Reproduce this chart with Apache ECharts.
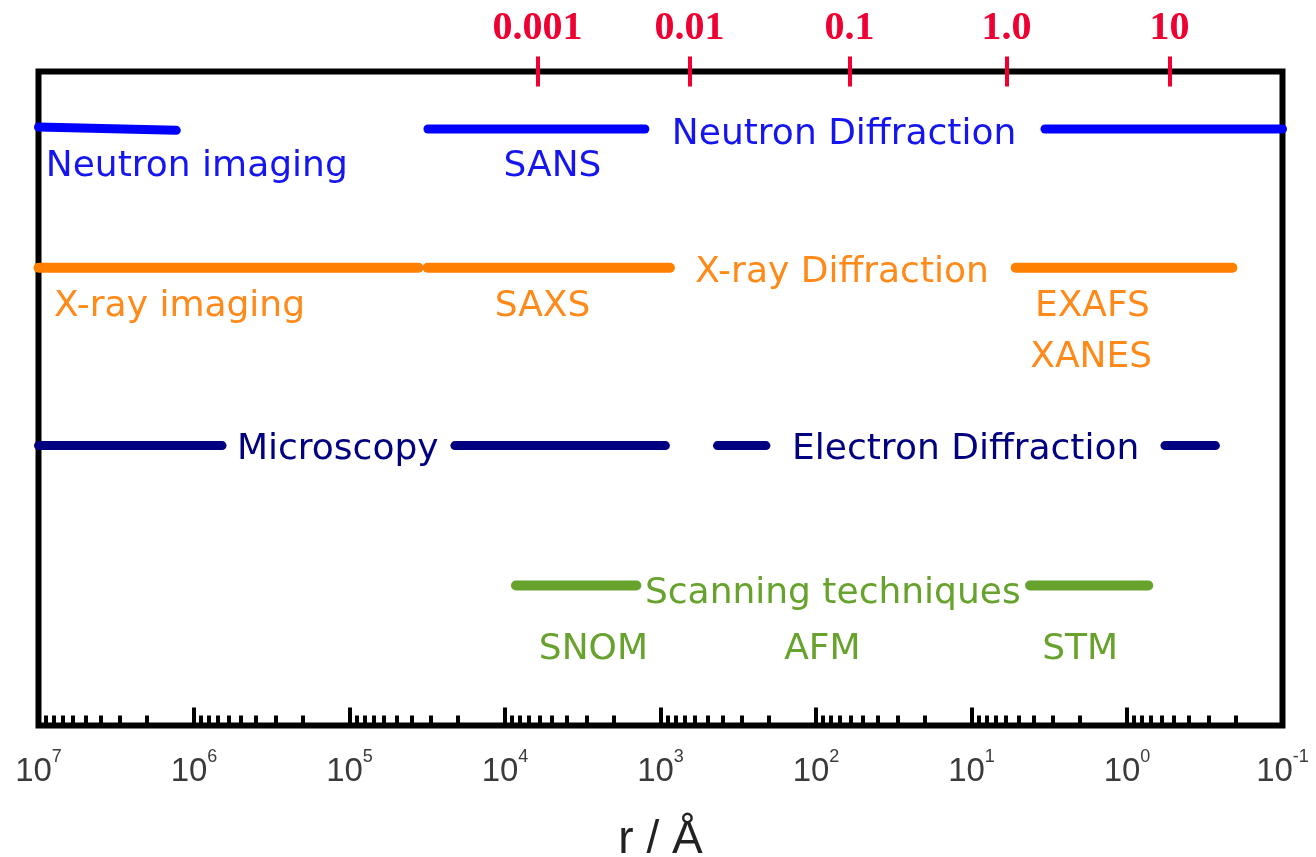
<!DOCTYPE html>
<html>
<head>
<meta charset="utf-8">
<script src="https://cdn.jsdelivr.net/npm/echarts@6/dist/echarts.min.js"></script>
<style>
  html, body { margin: 0; padding: 0; background: #fff; }
  #chart { width: 1316px; height: 857px; }
</style>
</head>
<body>
<div id="chart"></div>
<script>
// r in Angstrom (x, log, reversed); y is just the row height, 0..100
var neutronSegments = [
  [[1e7, 91.5], [1.3e6, 91.0]],
  [[3.13e4, 91.2], [1260, 91.2]],
  [[3.37, 91.2], [0.1, 91.2]]
];
var xraySegments = [
  [[1e7, 70.0], [3.6e4, 70.0]],
  [[3.15e4, 70.0], [870, 70.0]],
  [[5.2, 70.0], [0.21, 70.0]]
];
var electronSegments = [
  [[1e7, 42.8], [6.6e5, 42.8]],
  [[2.1e4, 42.8], [930, 42.8]],
  [[430, 42.8], [210, 42.8]],
  [[0.57, 42.8], [0.27, 42.8]]
];
var scanningSegments = [
  [[8500, 21.4], [1430, 21.4]],
  [[4.2, 21.4], [0.73, 21.4]]
];

var neutronLabels = [
  ['Neutron imaging', 9.6e5, 85.5],
  ['SANS', 4950, 85.5],
  ['Neutron Diffraction', 66, 90.3]
];
var xrayLabels = [
  ['X-ray imaging', 1.24e6, 64.1],
  ['SAXS', 5740, 64.1],
  ['X-ray Diffraction', 68, 69.3],
  ['EXAFS', 1.67, 64.1],
  ['XANES', 1.7, 56.3]
];
var electronLabels = [
  ['Microscopy', 1.19e5, 42.2],
  ['Electron Diffraction', 10.9, 42.2]
];
var scanningLabels = [
  ['Scanning techniques', 78, 20.1],
  ['SNOM', 2700, 11.6],
  ['AFM', 91, 11.6],
  ['STM', 2.0, 11.6]
];

// top scale: q / A^-1, placed where the picture puts them
var qTickLabels = ['0.001', '0.01', '0.1', '1.0', '10'];
var qTickR = [6180, 650, 61, 5.96, 0.533];

// minor ticks of the r axis
var decadeExps = [-1, 0, 1, 2, 3, 4, 5, 6];
var minorSteps = [2, 3, 4, 5, 6, 7, 8, 9];

var minorTicks = [];
decadeExps.forEach(function (e) {
  minorSteps.forEach(function (m) { minorTicks.push(m * Math.pow(10, e)); });
});

var FONT = 'DejaVu Sans';

function lineSeries(segs, color, width) {
  return segs.map(function (s) {
    return {
      type: 'line',
      data: s,
      showSymbol: false,
      symbol: 'none',
      silent: true,
      lineStyle: { color: color, width: width, cap: 'round' },
      z: 3
    };
  });
}

function labelSeries(items, color) {
  return {
    type: 'scatter',
    symbolSize: 1,
    itemStyle: { color: 'rgba(0,0,0,0)', opacity: 1 },
    silent: true,
    data: items.map(function (d) { return { name: d[0], value: [d[1], d[2]] }; }),
    label: {
      show: true,
      position: 'inside',
      formatter: '{b}',
      color: color,
      opacity: 1,
      fontFamily: FONT,
      fontSize: 36
    },
    z: 4
  };
}

var chart = echarts.init(document.getElementById('chart'));

var option = {
  animation: false,
  grid: {
    left: 38.5, right: 1316 - 1282.5, top: 71.5, bottom: 857 - 725.5,
    outerBoundsMode: 'none',
    containLabel: false,
    show: true, borderColor: '#000', borderWidth: 6, backgroundColor: '#fff'
  },
  xAxis: [
    {
      type: 'log',
      logBase: 10,
      min: 0.1,
      max: 1e7,
      inverse: true,
      interval: 1,
      position: 'bottom',
      name: 'r / Å',
      nameLocation: 'middle',
      nameGap: 92,
      nameTextStyle: { fontFamily: 'Liberation Sans', fontSize: 46, color: '#222' },
      axisLine: { show: false },
      axisTick: { show: true, inside: true, length: 18, lineStyle: { color: '#000', width: 4 } },
      splitLine: { show: false },
      axisLabel: {
        margin: 23,
        showMinLabel: true,
        showMaxLabel: true,
        formatter: function (v) {
          return '{b|10}{s|' + Math.round(Math.log10(v)) + '}';
        },
        rich: {
          b: { fontFamily: 'Liberation Sans', fontSize: 33, color: '#3a3a3a', lineHeight: 46 },
          s: { fontFamily: 'Liberation Sans', fontSize: 18, color: '#3a3a3a', lineHeight: 18, verticalAlign: 'top' }
        }
      }
    },
    {
      type: 'log',
      logBase: 10,
      min: 0.1,
      max: 1e7,
      inverse: true,
      position: 'bottom',
      axisLine: { show: false },
      axisLabel: { show: false },
      splitLine: { show: false },
      axisTick: {
        show: true, inside: true, length: 10,
        customValues: minorTicks,
        lineStyle: { color: '#000', width: 4 }
      }
    },
    {
      type: 'log',
      logBase: 10,
      min: 0.1,
      max: 1e7,
      inverse: true,
      position: 'top',
      offset: -15,
      axisLine: { show: false },
      splitLine: { show: false },
      axisTick: {
        show: true, inside: false, length: 30,
        customValues: qTickR,
        lineStyle: { color: '#ee0033', width: 4 }
      },
      axisLabel: {
        show: true,
        margin: 38,
        customValues: qTickR,
        formatter: function (v) {
          var i = qTickR.indexOf(v);
          return i >= 0 ? qTickLabels[i] : '';
        },
        fontFamily: 'Liberation Serif',
        fontWeight: 'bold',
        fontSize: 40,
        color: '#ee0033'
      }
    }
  ],
  yAxis: {
    type: 'value',
    min: 0,
    max: 100,
    show: false
  },
  series: [].concat(
    lineSeries(neutronSegments, '#0000ff', 9),
    lineSeries(xraySegments, '#ff8000', 10),
    lineSeries(electronSegments, '#000080', 9),
    lineSeries(scanningSegments, '#66a22c', 10),
    [
      labelSeries(neutronLabels, '#1515f0'),
      labelSeries(xrayLabels, '#ff8a1a'),
      labelSeries(electronLabels, '#000080'),
      labelSeries(scanningLabels, '#66a22c')
    ]
  )
};

chart.setOption(option);
</script>
</body>
</html>
